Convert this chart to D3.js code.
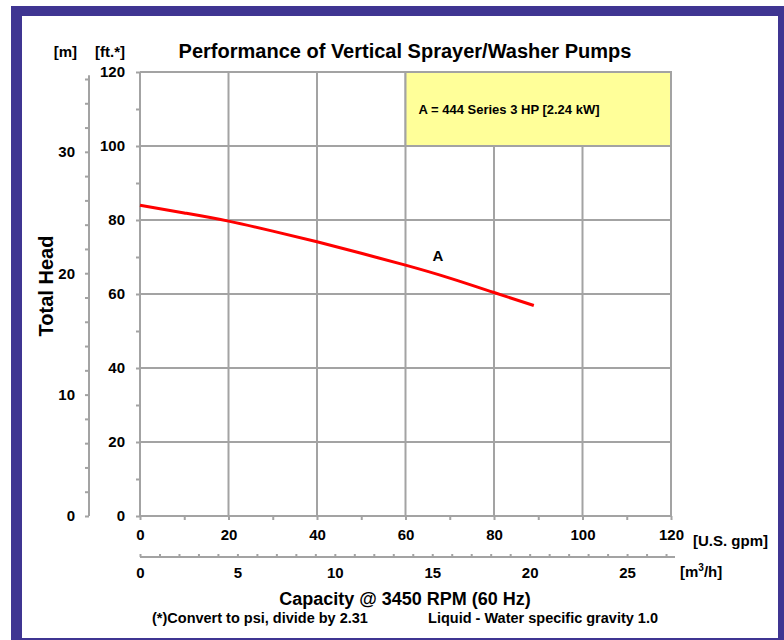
<!DOCTYPE html>

<head>
    <meta charset="utf-8">
    <script src="https://d3js.org/d3.v7.min.js"></script>
    <style>
        body {
            margin: 0;
            background: #fff;
        }

        svg {
            display: block;
            font-family: "Liberation Sans", Arial, sans-serif;
            font-weight: bold;
        }

        .axis path, .axis line {
            stroke: #a3a3a3;
            stroke-width: 2;
        }

        .axis text {
            fill: #000;
            font-size: 15px;
            font-weight: bold;
            font-family: "Liberation Sans", Arial, sans-serif;
        }
    </style>
</head>

<body>
    <script>
        // pump curve A
        const flowGpm = [0, 10, 20, 30, 40, 50, 60, 70, 80, 89];
        const headFt = [84.0, 81.9, 79.7, 77.0, 74.1, 71.0, 67.8, 64.3, 60.4, 56.9];

        const ftTicks = [0, 20, 40, 60, 80, 100, 120];
        const gpmTicks = [0, 20, 40, 60, 80, 100, 120];
        const mTicks = [0, 10, 20, 30];
        const m3hTicks = [0, 5, 10, 15, 20, 25];

        const legendText = "A = 444 Series 3 HP [2.24 kW]";
        const curveLabel = "A";

        const W = 784, H = 640,
            FT_PER_M = 3.2808,
            GPM_PER_M3H = 4.4029;

        const svg = d3.select("body").append("svg")
            .attr("width", W)
            .attr("height", H);

        // purple frame
        svg.append("rect").attr("x", 11).attr("y", 6).attr("width", W - 11).attr("height", H - 6)
            .attr("fill", "#3f3592");
        svg.append("rect").attr("x", 22).attr("y", 16).attr("width", 778 - 22).attr("height", 638 - 16)
            .attr("fill", "#fff");

        const x = d3.scaleLinear().domain([0, 120]).range([140, 671]),
            y = d3.scaleLinear().domain([0, 120]).range([516, 72]),
            ym = d3.scaleLinear().domain([0, 120 / FT_PER_M]).range([516, 72]),
            xm = d3.scaleLinear().domain([0, 120 / GPM_PER_M3H]).range([140, 671]);

        // grid
        const grid = svg.append("g").attr("stroke", "#a3a3a3").attr("stroke-width", 2);
        grid.selectAll(".v").data(gpmTicks).enter().append("line")
            .attr("x1", d => x(d)).attr("x2", d => x(d))
            .attr("y1", y(0)).attr("y2", y(120));
        grid.selectAll(".h").data(ftTicks).enter().append("line")
            .attr("x1", x(0)).attr("x2", x(120))
            .attr("y1", d => y(d)).attr("y2", d => y(d));

        // legend box
        svg.append("rect")
            .attr("x", x(60)).attr("y", y(120))
            .attr("width", x(120) - x(60)).attr("height", y(100) - y(120))
            .attr("fill", "#ffff99").attr("stroke", "#a3a3a3").attr("stroke-width", 2);
        svg.append("text")
            .attr("x", x(60) + 13).attr("y", 114)
            .attr("font-size", 13)
            .text(legendText);

        // ft axis
        svg.append("g").attr("class", "axis")
            .attr("transform", `translate(${x(0)},0)`)
            .call(d3.axisLeft(y).tickValues(d3.range(0, 121, 10)).tickSize(4).tickSizeOuter(0).tickPadding(11)
                .tickFormat(d => ftTicks.includes(d) ? d : ""))
            .select(".domain").remove();

        // gpm axis
        svg.append("g").attr("class", "axis")
            .attr("transform", `translate(0,${y(0)})`)
            .call(d3.axisBottom(x).tickValues(d3.range(0, 121, 10)).tickSize(4).tickSizeOuter(0).tickPadding(9)
                .tickFormat(d => gpmTicks.includes(d) ? d : ""))
            .select(".domain").remove();

        // meter axis
        svg.append("g").attr("class", "axis")
            .attr("transform", "translate(89,0)")
            .call(d3.axisLeft(ym).tickValues(d3.range(0, 37, 2)).tickSize(4).tickSizeOuter(0).tickPadding(10)
                .tickFormat(d => mTicks.includes(d) ? d : ""))
            .select(".domain").attr("d", `M0,${ym(0)}V${ym(36.3)}`);

        // m3/h axis
        const m3 = svg.append("g").attr("class", "axis")
            .attr("transform", "translate(0,557)")
            .call(d3.axisBottom(xm).tickValues(d3.range(0, 28, 1)).tickSize(-3).tickSizeOuter(0)
                .tickFormat(d => m3hTicks.includes(d) ? d : ""));
        m3.select(".domain").attr("d", `M${xm(0)},0H675`);
        m3.selectAll(".tick text").attr("dy", null).attr("y", 21);

        // curve
        svg.append("path")
            .datum(flowGpm.map((q, i) => [q, headFt[i]]))
            .attr("fill", "none")
            .attr("stroke", "#ff0000")
            .attr("stroke-width", 3)
            .attr("d", d3.line().x(d => x(d[0])).y(d => y(d[1])).curve(d3.curveNatural));

        svg.append("text")
            .attr("x", x(67.3)).attr("y", y(70.3)).attr("dy", "0.35em")
            .attr("text-anchor", "middle").attr("font-size", 15)
            .text(curveLabel);

        // titles
        svg.append("text").attr("x", 405).attr("y", 58).attr("text-anchor", "middle")
            .attr("font-size", 20).text("Performance of Vertical Sprayer/Washer Pumps");
        svg.append("text").attr("x", 77).attr("y", 57).attr("text-anchor", "end")
            .attr("font-size", 15).text("[m]");
        svg.append("text").attr("x", 125).attr("y", 57).attr("text-anchor", "end")
            .attr("font-size", 15).text("[ft.*]");
        svg.append("text").attr("transform", "translate(53,286) rotate(-90)").attr("text-anchor", "middle")
            .attr("font-size", 20).text("Total Head");
        svg.append("text").attr("x", 693).attr("y", 546)
            .attr("font-size", 15).text("[U.S. gpm]");
        const m3lab = svg.append("text").attr("x", 680).attr("y", 577).attr("font-size", 15);
        m3lab.append("tspan").text("[m");
        m3lab.append("tspan").attr("font-size", 10).attr("dy", -6).text("3");
        m3lab.append("tspan").attr("dy", 6).text("/h]");
        svg.append("text").attr("x", 405).attr("y", 605).attr("text-anchor", "middle")
            .attr("font-size", 18).text("Capacity @ 3450 RPM (60 Hz)");
        svg.append("text").attr("x", 152).attr("y", 623)
            .attr("font-size", 14.5).text("(*)Convert to psi, divide by 2.31");
        svg.append("text").attr("x", 658).attr("y", 623).attr("text-anchor", "end")
            .attr("font-size", 14.5).text("Liquid - Water specific gravity 1.0");
    </script>
</body>
